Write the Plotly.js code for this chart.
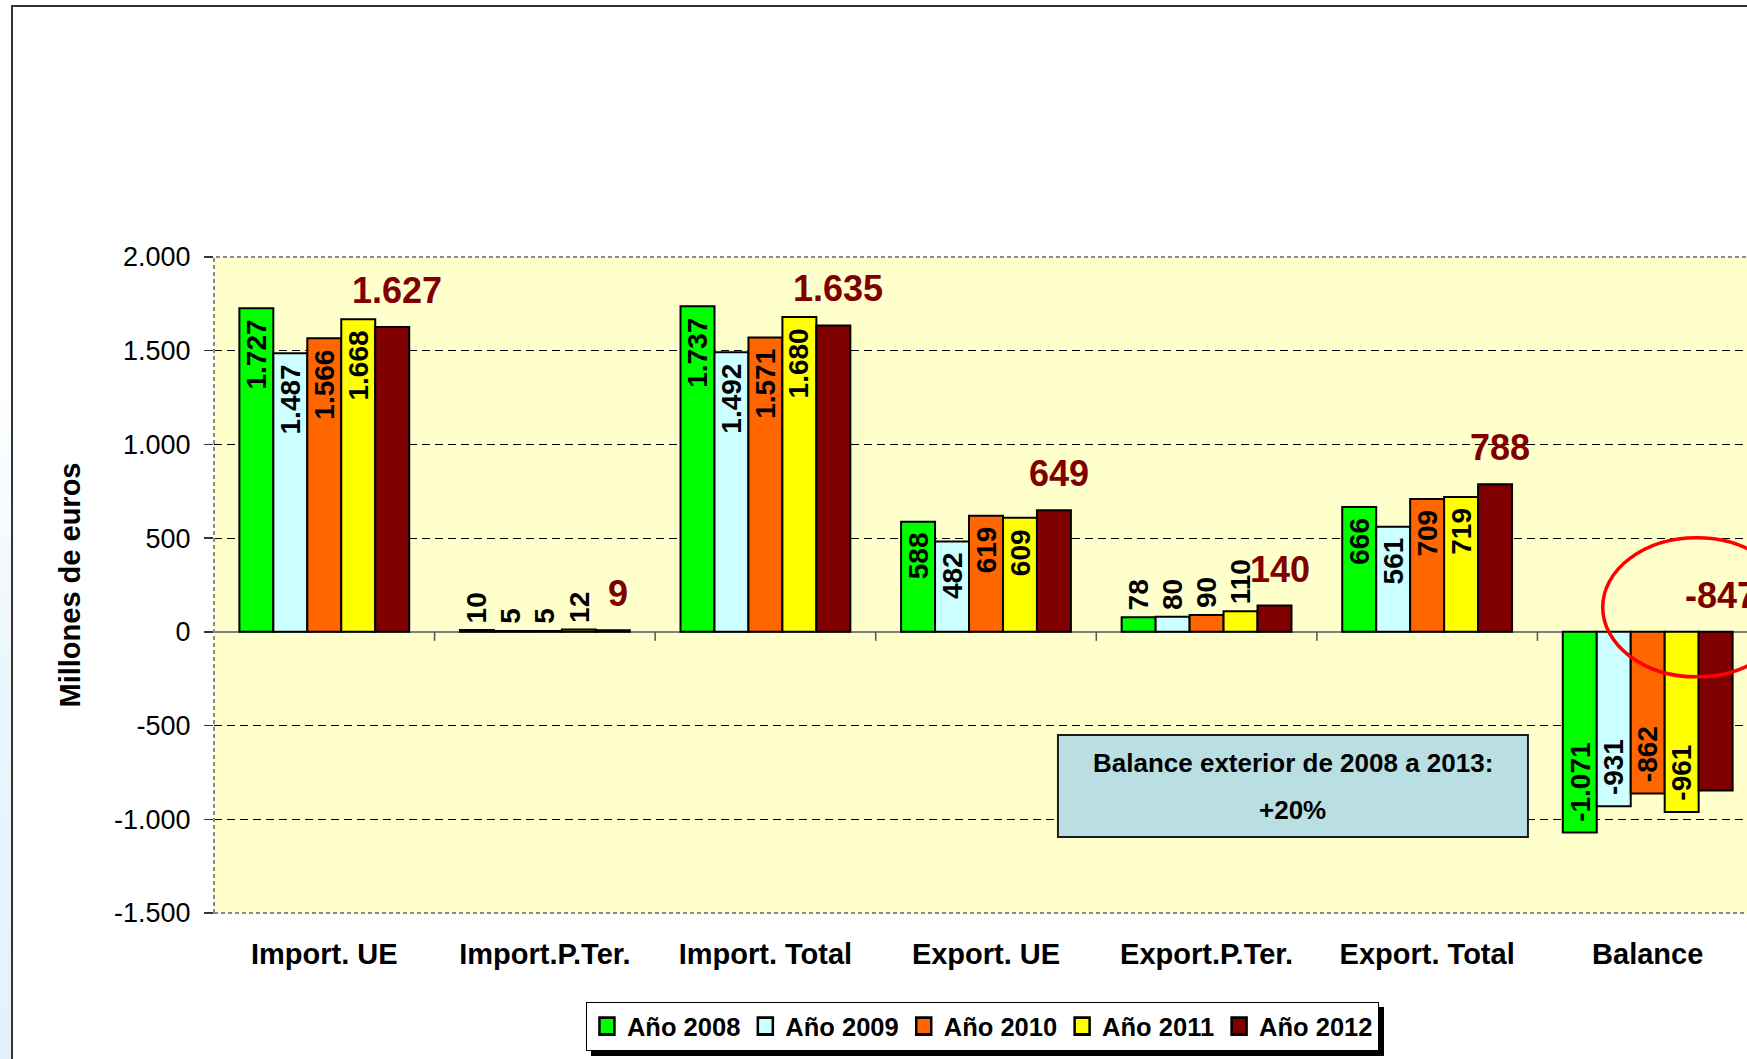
<!DOCTYPE html>
<html><head><meta charset="utf-8">
<script src="https://cdn.plot.ly/plotly-3.0.1.min.js"></script>
<style>
html,body{margin:0;padding:0;overflow:hidden;background:#fff;width:1747px;height:1059px;}
#chart{position:absolute;left:0;top:0;width:1800px;height:1059px;}
#strip{position:absolute;left:0;top:0;width:11px;height:1059px;background:linear-gradient(to bottom,#fff 0%,#fff 35%,#eaf6fc 65%,#e3f2fb 100%);}
#frame{position:absolute;left:11px;top:5px;width:2000px;height:2000px;border-top:2px solid #333;border-left:2px solid #333;pointer-events:none;}
</style></head><body>
<div id="chart"></div><div id="strip"></div><div id="frame"></div>
<script>
const categories = ['Import. UE','Import.P.Ter.','Import. Total','Export. UE','Export.P.Ter.','Export. Total','Balance'];
const years = ['Año 2008','Año 2009','Año 2010','Año 2011','Año 2012'];
const v2008 = [1727, 10, 1737, 588, 78, 666, -1071];
const v2009 = [1487, 5, 1492, 482, 80, 561, -931];
const v2010 = [1566, 5, 1571, 619, 90, 709, -862];
const v2011 = [1668, 12, 1680, 609, 110, 719, -961];
const v2012 = [1627, 9, 1635, 649, 140, 788, -847];
const colors = ['#00FF00','#CCFFFF','#FF6600','#FFFF00','#800000'];
const yTickVals = [-1500,-1000,-500,0,500,1000,1500,2000];
const yTickText = ['-1.500','-1.000','-500','0','500','1.000','1.500','2.000'];
const boxLines = ['Balance exterior de 2008 a 2013:','+20%'];

const series = [v2008, v2009, v2010, v2011, v2012];
const FONT = 'Liberation Sans, Arial, sans-serif';
const bargap = 0.23;
const bw = (1 - bargap) / series.length;
const fmt = v => (v < 0 ? '-' : '') + String(Math.abs(v)).replace(/\B(?=(\d{3})+(?!\d))/g, '.');

const traces = series.map((vals, k) => ({
  type: 'bar', name: years[k], x: categories, y: vals,
  marker: {color: colors[k], line: {color: '#000', width: 2}},
  hoverinfo: 'skip'
}));

const annotations = [];
series.forEach((vals, k) => {
  vals.forEach((v, i) => {
    const xpos = i + (k - (series.length - 1) / 2) * bw;
    if (k === series.length - 1) {
      annotations.push({x: xpos, y: Math.max(v, 0), xref: 'x', yref: 'y', text: fmt(v), showarrow: false,
        yanchor: 'bottom', xanchor: 'center', yshift: 14, xshift: 5,
        font: {family: FONT, size: 36, weight: 'bold', color: '#800000'}});
    } else {
      const small = Math.abs(v) < 200;
      annotations.push({x: xpos, y: v, xref: 'x', yref: 'y', text: fmt(v), showarrow: false, textangle: -90,
        xanchor: 'center',
        yanchor: small ? 'bottom' : (v >= 0 ? 'top' : 'bottom'),
        yshift: small ? 5 : (v >= 0 ? -9 : 9),
        font: {family: FONT, size: 28, weight: 'bold', color: '#000'}});
    }
  });
});
annotations.push({xref: 'paper', yref: 'paper', x: 0.6988, y: 0.2287, text: boxLines[0], showarrow: false,
  xanchor: 'center', yanchor: 'middle', font: {family: FONT, size: 26, weight: 'bold', color: '#000'}});
annotations.push({xref: 'paper', yref: 'paper', x: 0.6988, y: 0.157, text: boxLines[1], showarrow: false,
  xanchor: 'center', yanchor: 'middle', font: {family: FONT, size: 26, weight: 'bold', color: '#000'}});

const shapes = [];
for (let i = 0; i < categories.length - 1; i++) {
  shapes.push({type: 'line', xref: 'x', x0: i + 0.5, x1: i + 0.5, yref: 'y', ysizemode: 'pixel', yanchor: 0,
    y0: 0, y1: -9, line: {color: '#555', width: 1.5}, layer: 'above'});
}
shapes.push({type: 'rect', xref: 'paper', yref: 'paper', x0: 0, x1: 1, y0: 0, y1: 1,
  line: {color: '#8a8a8a', width: 2, dash: '4px,3px'}, layer: 'above'});
shapes.push({type: 'rect', xref: 'paper', yref: 'paper', x0: 0.5466, x1: 0.851, y0: 0.1159, y1: 0.2713,
  fillcolor: '#B9DFE3', line: {color: '#1a1a1a', width: 2}, layer: 'above'});
shapes.push({type: 'circle', xref: 'x', xsizemode: 'pixel', xanchor: categories.length - 1, x0: -45, x1: 143,
  yref: 'y', ysizemode: 'pixel', yanchor: 0, y0: -45, y1: 94,
  line: {color: '#FF0000', width: 3.5}, layer: 'above'});

const layout = {
  width: 1800, height: 1059,
  margin: {l: 214, r: 42, t: 257, b: 146, autoexpand: false},
  paper_bgcolor: '#fff', plot_bgcolor: '#FFFFCC',
  barmode: 'group', bargap: bargap, bargroupgap: 0,
  font: {family: FONT, color: '#000'},
  showlegend: true,
  legend: {orientation: 'h', x: 0.4977, xanchor: 'center', y: -0.1357, yanchor: 'top',
    bgcolor: '#fff', bordercolor: '#000', borderwidth: 1,
    font: {family: FONT, size: 25.5, weight: 'bold', color: '#000'}},
  xaxis: {type: 'category', range: [-0.5, categories.length - 0.5], showgrid: false, zeroline: false,
    showline: false, ticks: '', ticklabelstandoff: 21,
    tickfont: {family: FONT, size: 29, weight: 'bold', color: '#000'}},
  yaxis: {range: [-1500, 2000], tickvals: yTickVals, ticktext: yTickText,
    ticks: 'outside', ticklen: 9, tickcolor: '#333', tickwidth: 1.5, ticklabelstandoff: 8,
    tickfont: {family: FONT, size: 27, color: '#000'},
    showgrid: true, gridcolor: '#000', gridwidth: 1, griddash: '8px,5px',
    zeroline: true, zerolinecolor: '#808080', zerolinewidth: 2, showline: false,
    title: {text: 'Millones de euros', standoff: 24, font: {family: FONT, size: 29, weight: 'bold', color: '#000'}}},
  annotations: annotations,
  shapes: shapes
};

Plotly.newPlot('chart', traces, layout, {displayModeBar: false, staticPlot: true}).then(() => {
  const bg = document.querySelector('.legend .bg');
  if (bg) bg.style.filter = 'drop-shadow(5px 5px 0px #000)';
  document.querySelectorAll('.legend .legendpoints path').forEach(p => {
    const t = p.getAttribute('transform') || '';
    p.setAttribute('transform', t + ' scale(1.25,1.4)');
  });
});
</script>
</body></html>
